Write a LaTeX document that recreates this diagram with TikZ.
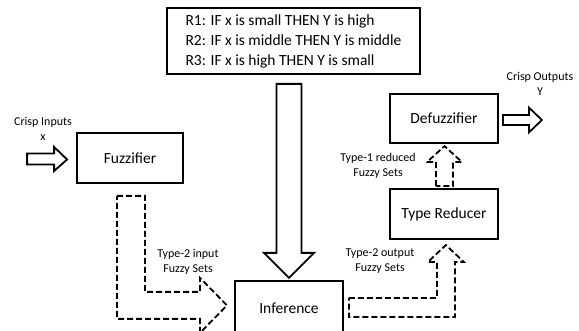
\documentclass[tikz,border=0pt]{standalone}
\usepackage{fontspec}
\setmainfont{Carlito}
\usetikzlibrary{calc}

\begin{document}
\begin{tikzpicture}[x=1pt, y=-1pt,
		box/.style={draw, line width=1.8pt, minimum width=108pt, minimum height=50pt, inner sep=0pt, font=\fontsize{15.5}{18}\selectfont},
		lbl/.style={align=center, inner sep=0pt, font=\fontsize{12}{14.5}\selectfont},
		fat/.style={draw, line width=1.8pt, line join=miter},
		fatdash/.style={fat, dash pattern=on 6pt off 3pt}]
				\path[use as bounding box, fill=white] (0,0) rectangle (579,331);
				
				\path (293.5, 41) node[draw, line width=1.8pt, minimum width=253pt, minimum height=66pt, align=left, font=\fontsize{15.5}{20}\selectfont] (rules){R1: IF x is small THEN Y is high\\R2: IF x is middle THEN Y is middle\\R3: IF x is high THEN Y is small}
				(130, 158) node[box, minimum width=106pt] (fuzz){Fuzzifier}
				(289, 308) node[box, minimum height=54pt] (inf){Inference}
				(444, 118.5) node[box, minimum height=49pt] (defuzz){Defuzzifier}
				(444, 214) node[box] (tr){Type Reducer};
				
				\path (43, 129) node[lbl] (xin){Crisp Inputs\\x}
				(540, 84) node[lbl] (yout){Crisp Outputs\\Y}
				(188, 262) node[lbl] (t2in){Type-2 input\\Fuzzy Sets}
				(378, 166) node[lbl] (t1red){Type-1 reduced\\Fuzzy Sets}
				(380, 261) node[lbl] (t2out){Type-2 output\\Fuzzy Sets};
				
				% rule base into inference
				\draw[fat] ($(rules.south -| inf.north)+(-12.5,9)$) -- ++(25,0) -- ++(0,169) -- ++(12.5,0) -- ++(-25,25) -- ++(-25,-25) -- ++(12.5,0) -- cycle;
				% crisp in and out
				\draw[fat] ($(fuzz.west)+(-9,1.5)$) -- ++(-13,-12.5) -- ++(0,6.5) -- ++(-27,0) -- ++(0,11) -- ++(27,0) -- ++(0,6.5) -- cycle;
				\draw[fat] ($(defuzz.east)+(4,1.5)$) -- ++(0,-5) -- ++(26,0) -- ++(0,-7.5) -- ++(13,12.5) -- ++(-13,12.5) -- ++(0,-7.5) -- ++(-26,0) -- cycle;
				% fuzzy sets between blocks
				\draw[fatdash] ($(fuzz.south)+(-13,12)$) -- ++(28,0) -- ++(0,96) -- ++(55,0) -- ++(0,-14) -- ++(27,27.5) -- ++(-27,27.5) -- ++(0,-14) -- ++(-83,0) -- cycle;
				\draw[fatdash] ($(inf.east)+(5,-10)$) -- ++(88,0) -- ++(0,-36) -- ++(-9,0) -- ++(18,-17) -- ++(18,17) -- ++(-9,0) -- ++(0,55) -- ++(-106,0) -- cycle;
				\draw[fatdash] ($(tr.north)+(-8,-2)$) -- ++(0,-24) -- ++(-9,0) -- ++(17.5,-16) -- ++(17.5,16) -- ++(-9,0) -- ++(0,24) -- cycle;
			\end{tikzpicture}
\end{document}
